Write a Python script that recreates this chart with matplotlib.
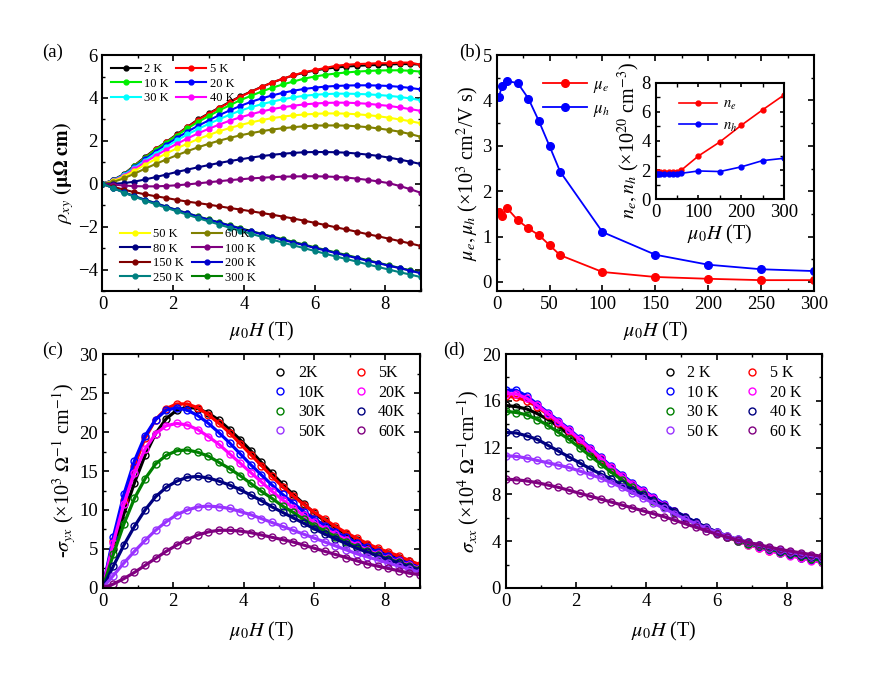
import numpy as np
import matplotlib.pyplot as plt

plt.rcParams['font.family'] = ['Liberation Serif', 'DejaVu Serif']
plt.rcParams['mathtext.fontset'] = 'stix'
plt.rcParams['xtick.direction'] = 'in'
plt.rcParams['ytick.direction'] = 'in'
plt.rcParams['xtick.top'] = True
plt.rcParams['ytick.right'] = True
plt.rcParams['axes.linewidth'] = 1.5
plt.rcParams['xtick.major.width'] = 1.2
plt.rcParams['ytick.major.width'] = 1.2
plt.rcParams['xtick.minor.width'] = 1.0
plt.rcParams['ytick.minor.width'] = 1.0
plt.rcParams['xtick.major.size'] = 4
plt.rcParams['ytick.major.size'] = 4
plt.rcParams['xtick.minor.size'] = 2
plt.rcParams['ytick.minor.size'] = 2

# magnetic field sweep (T)
field = [0.0, 0.3, 0.6, 0.9, 1.2, 1.5, 1.8, 2.1, 2.4, 2.7, 3.0, 3.3, 3.6, 3.9, 4.2, 4.5,
         4.8, 5.1, 5.4, 5.7, 6.0, 6.3, 6.6, 6.9, 7.2, 7.5, 7.8, 8.1, 8.4, 8.7, 9.0]

# (a) Hall resistivity rho_xy (uOhm cm)
rho_2K = [0, 0.18, 0.45, 0.85, 1.25, 1.62, 1.95, 2.3, 2.65, 3.0, 3.28, 3.55, 3.82, 4.08, 4.3, 4.52,
          4.72, 4.9, 5.05, 5.18, 5.28, 5.36, 5.42, 5.46, 5.5, 5.52, 5.54, 5.56, 5.58, 5.58, 5.55]
rho_5K = [0, 0.17, 0.43, 0.83, 1.22, 1.6, 1.93, 2.28, 2.63, 2.97, 3.26, 3.53, 3.8, 4.06, 4.29, 4.51,
          4.72, 4.9, 5.06, 5.2, 5.3, 5.4, 5.5, 5.55, 5.58, 5.6, 5.62, 5.62, 5.65, 5.65, 5.55]
rho_10K = [0, 0.17, 0.43, 0.82, 1.2, 1.58, 1.92, 2.25, 2.58, 2.88, 3.15, 3.42, 3.66, 3.9, 4.1, 4.3,
           4.48, 4.63, 4.77, 4.9, 5.0, 5.08, 5.14, 5.19, 5.23, 5.26, 5.28, 5.29, 5.29, 5.27, 5.23]
rho_20K = [0, 0.16, 0.42, 0.78, 1.14, 1.5, 1.82, 2.13, 2.43, 2.7, 2.95, 3.2, 3.42, 3.63, 3.82, 3.98,
           4.12, 4.24, 4.34, 4.42, 4.48, 4.53, 4.56, 4.58, 4.59, 4.59, 4.58, 4.56, 4.52, 4.47, 4.4]
rho_30K = [0, 0.15, 0.4, 0.74, 1.08, 1.41, 1.72, 2.02, 2.3, 2.55, 2.79, 3.01, 3.22, 3.41, 3.57, 3.71,
           3.83, 3.94, 4.03, 4.1, 4.15, 4.18, 4.2, 4.2, 4.19, 4.17, 4.14, 4.1, 4.05, 3.98, 3.9]
rho_40K = [0, 0.14, 0.37, 0.68, 1.0, 1.3, 1.59, 1.86, 2.11, 2.35, 2.56, 2.76, 2.94, 3.1, 3.24, 3.37,
           3.48, 3.57, 3.64, 3.7, 3.74, 3.77, 3.78, 3.78, 3.76, 3.73, 3.68, 3.63, 3.56, 3.48, 3.4]
rho_50K = [0, 0.12, 0.33, 0.6, 0.88, 1.15, 1.41, 1.65, 1.87, 2.08, 2.27, 2.45, 2.6, 2.74, 2.86, 2.97,
           3.06, 3.13, 3.19, 3.23, 3.26, 3.28, 3.28, 3.27, 3.24, 3.2, 3.15, 3.08, 3.0, 2.92, 2.82]
rho_60K = [0, 0.08, 0.25, 0.47, 0.7, 0.92, 1.13, 1.33, 1.52, 1.7, 1.86, 2.01, 2.14, 2.26, 2.36, 2.45,
           2.53, 2.59, 2.64, 2.68, 2.71, 2.72, 2.72, 2.71, 2.68, 2.64, 2.58, 2.51, 2.43, 2.32, 2.19]
rho_80K = [0, 0.0, 0.03, 0.1, 0.2, 0.31, 0.43, 0.55, 0.66, 0.77, 0.87, 0.97, 1.06, 1.14, 1.22, 1.29,
           1.35, 1.4, 1.44, 1.47, 1.48, 1.48, 1.47, 1.45, 1.41, 1.36, 1.3, 1.22, 1.13, 1.03, 0.92]
rho_100K = [0, -0.04, -0.08, -0.11, -0.12, -0.12, -0.1, -0.07, -0.03, 0.02, 0.07, 0.12, 0.17, 0.21,
            0.25, 0.28, 0.31, 0.33, 0.34, 0.35, 0.35, 0.34, 0.32, 0.29, 0.24, 0.18, 0.11, 0.03, -0.1,
            -0.25, -0.42]
rho_150K = [0, -0.14, -0.27, -0.39, -0.49, -0.58, -0.66, -0.75, -0.83, -0.9, -0.97, -1.05, -1.13,
            -1.2, -1.28, -1.36, -1.44, -1.53, -1.62, -1.72, -1.82, -1.92, -2.03, -2.13, -2.24, -2.35,
            -2.45, -2.56, -2.67, -2.78, -2.9]
rho_200K = [0, -0.2, -0.4, -0.58, -0.75, -0.91, -1.07, -1.23, -1.38, -1.53, -1.67, -1.81, -1.95,
            -2.09, -2.22, -2.35, -2.48, -2.61, -2.74, -2.86, -2.99, -3.11, -3.23, -3.35, -3.47, -3.59,
            -3.7, -3.82, -3.93, -4.05, -4.17]
rho_250K = [0, -0.2, -0.41, -0.6, -0.78, -0.95, -1.12, -1.28, -1.44, -1.6, -1.75, -1.9, -2.05, -2.19,
            -2.33, -2.47, -2.6, -2.74, -2.87, -3.0, -3.13, -3.26, -3.39, -3.51, -3.63, -3.76, -3.88,
            -4.0, -4.12, -4.23, -4.35]
rho_300K = [0, -0.19, -0.39, -0.57, -0.74, -0.9, -1.06, -1.22, -1.37, -1.52, -1.66, -1.8, -1.94,
            -2.07, -2.2, -2.33, -2.46, -2.58, -2.71, -2.83, -2.96, -3.08, -3.2, -3.32, -3.44, -3.56,
            -3.68, -3.8, -3.92, -4.03, -4.15]

# (b) mobilities vs temperature
temps = [2, 5, 10, 20, 30, 40, 50, 60, 100, 150, 200, 250, 300]
mu_e = [1.54, 1.46, 1.62, 1.36, 1.18, 1.03, 0.81, 0.59, 0.22, 0.11, 0.07, 0.04, 0.04]
mu_h = [4.07, 4.32, 4.43, 4.38, 4.04, 3.54, 2.99, 2.43, 1.10, 0.60, 0.38, 0.28, 0.24]
n_e = [1.85, 1.85, 1.85, 1.86, 1.86, 1.87, 1.9, 2.0, 2.97, 3.93, 5.07, 6.13, 7.15]
n_h = [1.71, 1.72, 1.72, 1.73, 1.73, 1.74, 1.76, 1.78, 1.94, 1.9, 2.22, 2.65, 2.81]

# (c) -sigma_yx (1e3 Ohm^-1 cm^-1)
syx_2K = [0, 5.0, 9.5, 13.5, 17.0, 19.8, 21.7, 22.8, 23.2, 23.0, 22.4, 21.5, 20.3, 19.0, 17.6, 16.1,
          14.7, 13.3, 12.0, 10.8, 9.6, 8.6, 7.7, 6.9, 6.2, 5.5, 4.9, 4.4, 3.9, 3.4, 2.9]
syx_5K = [0, 6.0, 11.3, 15.7, 19.2, 21.6, 23.0, 23.6, 23.6, 23.1, 22.2, 21.1, 19.9, 18.5, 17.1, 15.7,
          14.3, 13.0, 11.8, 10.7, 9.7, 8.8, 7.9, 7.1, 6.4, 5.7, 5.1, 4.6, 4.1, 3.5, 3.0]
syx_10K = [0, 6.5, 12.0, 16.3, 19.5, 21.6, 22.8, 23.1, 22.8, 22.1, 21.1, 19.9, 18.6, 17.2, 15.8, 14.5,
           13.2, 12.0, 10.9, 9.8, 8.9, 8.0, 7.2, 6.5, 5.8, 5.2, 4.6, 4.1, 3.6, 3.1, 2.6]
syx_20K = [0, 5.8, 10.8, 14.8, 17.8, 19.8, 20.8, 21.1, 20.9, 20.3, 19.4, 18.4, 17.2, 16.0, 14.8, 13.6,
           12.4, 11.3, 10.3, 9.3, 8.4, 7.6, 6.9, 6.2, 5.5, 4.9, 4.3, 3.8, 3.4, 2.9, 2.5]
syx_30K = [0, 4.3, 8.2, 11.5, 14.0, 15.9, 17.0, 17.6, 17.7, 17.4, 16.9, 16.1, 15.3, 14.4, 13.4, 12.4,
           11.5, 10.5, 9.7, 8.8, 8.0, 7.3, 6.6, 5.9, 5.3, 4.7, 4.2, 3.7, 3.3, 2.8, 2.4]
syx_40K = [0, 2.8, 5.5, 7.9, 10.0, 11.7, 12.9, 13.7, 14.2, 14.3, 14.1, 13.7, 13.2, 12.6, 11.9, 11.2,
           10.4, 9.7, 9.0, 8.3, 7.6, 6.9, 6.3, 5.7, 5.1, 4.6, 4.1, 3.6, 3.2, 2.7, 2.3]
syx_50K = [0, 1.6, 3.2, 4.7, 6.1, 7.4, 8.5, 9.4, 10.0, 10.4, 10.5, 10.4, 10.2, 9.8, 9.4, 8.9,
           8.4, 7.9, 7.4, 6.9, 6.4, 5.9, 5.4, 4.9, 4.4, 4.0, 3.6, 3.2, 2.8, 2.4, 2.0]
syx_60K = [0, 0.5, 1.2, 2.0, 2.9, 3.8, 4.7, 5.5, 6.2, 6.8, 7.2, 7.4, 7.4, 7.3, 7.1, 6.8,
           6.5, 6.2, 5.9, 5.5, 5.1, 4.7, 4.3, 3.9, 3.5, 3.1, 2.8, 2.5, 2.2, 1.9, 1.7]

# (d) sigma_xx (1e4 Ohm^-1 cm^-1)
sxx_2K = [15.6, 15.5, 15.3, 14.9, 14.4, 13.8, 13.1, 12.4, 11.6, 10.9, 10.2, 9.5, 8.8, 8.2, 7.6, 7.0,
          6.5, 6.0, 5.55, 5.1, 4.7, 4.35, 4.05, 3.75, 3.5, 3.25, 3.05, 2.85, 2.65, 2.45, 2.3]
sxx_5K = [16.4, 16.3, 16.0, 15.5, 14.8, 14.1, 13.4, 12.6, 11.8, 11.0, 10.25, 9.55, 8.85, 8.25, 7.65,
          7.05, 6.5, 6.0, 5.55, 5.1, 4.7, 4.35, 4.0, 3.7, 3.45, 3.2, 3.0, 2.8, 2.6, 2.4, 2.25]
sxx_10K = [16.9, 16.9, 16.4, 15.7, 15.0, 14.3, 13.6, 12.8, 12.0, 11.2, 10.4, 9.7, 9.0, 8.4, 7.8, 7.2,
           6.6, 6.1, 5.6, 5.15, 4.75, 4.4, 4.05, 3.75, 3.5, 3.25, 3.0, 2.8, 2.6, 2.4, 2.25]
sxx_20K = [16.6, 16.6, 16.2, 15.6, 14.9, 14.2, 13.5, 12.7, 11.9, 11.1, 10.3, 9.6, 8.9, 8.3, 7.7, 7.1,
           6.55, 6.05, 5.55, 5.1, 4.7, 4.35, 4.0, 3.7, 3.45, 3.2, 2.95, 2.75, 2.55, 2.35, 2.2]
sxx_30K = [15.1, 15.0, 14.8, 14.4, 13.9, 13.3, 12.7, 12.0, 11.3, 10.6, 9.9, 9.25, 8.6, 8.0, 7.45, 6.9,
           6.4, 5.95, 5.5, 5.1, 4.7, 4.35, 4.05, 3.8, 3.55, 3.3, 3.1, 2.9, 2.7, 2.5, 2.35]
sxx_40K = [13.3, 13.25, 13.0, 12.7, 12.2, 11.7, 11.2, 10.7, 10.2, 9.75, 9.3, 8.85, 8.4, 7.95, 7.5,
           7.05, 6.6, 6.1, 5.65, 5.2, 4.8, 4.45, 4.15, 3.9, 3.65, 3.4, 3.2, 3.0, 2.8, 2.65, 2.5]
sxx_50K = [11.3, 11.25, 11.1, 10.9, 10.7, 10.5, 10.3, 10.0, 9.7, 9.4, 9.0, 8.6, 8.15, 7.7, 7.25, 6.8,
           6.35, 5.9, 5.5, 5.1, 4.75, 4.45, 4.15, 3.9, 3.65, 3.45, 3.25, 3.05, 2.9, 2.75, 2.6]
sxx_60K = [9.3, 9.25, 9.15, 9.0, 8.8, 8.6, 8.35, 8.1, 7.85, 7.6, 7.35, 7.1, 6.85, 6.6, 6.35, 6.1,
           5.8, 5.5, 5.2, 4.9, 4.6, 4.35, 4.1, 3.9, 3.7, 3.5, 3.3, 3.15, 3.0, 2.85, 2.7]

rho_sets = [('2 K', rho_2K, 'black'), ('5 K', rho_5K, 'red'), ('10 K', rho_10K, '#00ee00'),
            ('20 K', rho_20K, '#0000ff'), ('30 K', rho_30K, '#00ffff'), ('40 K', rho_40K, '#ff00ff'),
            ('50 K', rho_50K, '#ffff00'), ('60 K', rho_60K, '#808000'), ('80 K', rho_80K, '#000080'),
            ('100 K', rho_100K, '#800080'), ('150 K', rho_150K, '#800000'),
            ('300 K', rho_300K, '#008000'), ('200 K', rho_200K, '#0000cc'),
            ('250 K', rho_250K, '#008080')]

low_T_colors = ['black', 'red', '#0000ff', '#ff00ff', '#008000', '#000080', '#9933ff', '#800080']
low_T_names = ['2', '5', '10', '20', '30', '40', '50', '60']
syx_sets = [syx_2K, syx_5K, syx_10K, syx_20K, syx_30K, syx_40K, syx_50K, syx_60K]
sxx_sets = [sxx_2K, sxx_5K, sxx_10K, sxx_20K, sxx_30K, sxx_40K, sxx_50K, sxx_60K]

fig = plt.figure(figsize=(8.72, 6.8), dpi=100)
tick_fs = 13.5
lab_fs = 14.5
pan_fs = 13.5
xlab = r'$\mu_\mathit{0}H$ (T)'

# ---------------- (a)
ax = fig.add_axes([0.1175, 0.572, 0.365, 0.347])
lines = {}
for name, y, c in rho_sets:
    lines[name], = ax.plot(field, y, '-o', color=c, ms=3.5, lw=1.5)
ax.set_xlim(0, 9)
ax.set_ylim(-5, 6)
ax.set_xticks([0, 2, 4, 6, 8])
ax.set_xticks([1, 3, 5, 7, 9], minor=True)
ax.set_yticks([-4, -2, 0, 2, 4, 6])
ax.set_yticks([-5, -3, -1, 1, 3, 5], minor=True)
ax.tick_params(labelsize=tick_fs, which='both', top=True, right=True)
ax.set_xlabel(xlab, fontsize=lab_fs, labelpad=5)
ax.set_ylabel(r'$\rho_{xy}$ $\mathbf{(\mu\Omega\ cm)}$', fontsize=lab_fs, labelpad=1)
top_order = ['2 K', '10 K', '30 K', '5 K', '20 K', '40 K']
leg1 = ax.legend([lines[k] for k in top_order], top_order, loc='upper left', ncol=2,
                 frameon=False, fontsize=9, handlelength=2.4, handletextpad=0.3,
                 columnspacing=0.6, labelspacing=0.2, borderaxespad=0.25)
ax.add_artist(leg1)
bot_order = ['50 K', '80 K', '150 K', '250 K', '60 K', '100 K', '200 K', '300 K']
ax.legend([lines[k] for k in bot_order], bot_order, loc='lower left', ncol=2,
          frameon=False, fontsize=9, handlelength=2.4, handletextpad=0.3,
          columnspacing=0.6, labelspacing=0.2, borderaxespad=0.2, bbox_to_anchor=(0.03, 0.0))
fig.text(0.048, 0.916, '(a)', fontsize=pan_fs)

# ---------------- (b)
ax = fig.add_axes([0.5696, 0.572, 0.364, 0.347])
ax.plot(temps, mu_e, '-o', color='#ff0000', ms=5.5, lw=1.3, label=r'$\mu_e$')
ax.plot(temps, mu_h, '-o', color='#0000ff', ms=5.5, lw=1.3, label=r'$\mu_h$')
ax.set_xlim(0, 300)
ax.set_ylim(-0.2, 5)
ax.set_xticks([0, 50, 100, 150, 200, 250, 300])
ax.set_xticks([25, 75, 125, 175, 225, 275], minor=True)
ax.set_yticks([0, 1, 2, 3, 4, 5])
ax.set_yticks([0.5, 1.5, 2.5, 3.5, 4.5], minor=True)
ax.tick_params(labelsize=tick_fs, which='both', top=True, right=True)
ax.set_xlabel(xlab, fontsize=lab_fs, labelpad=5)
ax.set_ylabel(r'$\mu_e, \mu_h$ (×10$^3$ cm$^2$/V s)', fontsize=lab_fs, labelpad=1)
ax.legend(loc='upper left', frameon=False, fontsize=12, handlelength=2.6, handletextpad=0.4,
          labelspacing=0.35, bbox_to_anchor=(0.1, 0.97))
fig.text(0.527, 0.916, '(b)', fontsize=pan_fs)

axi = fig.add_axes([0.752, 0.707, 0.147, 0.1715])
axi.plot(temps, n_e, '-o', color='#ff0000', ms=3.5, lw=1.2, label=r'$n_e$')
axi.plot(temps, n_h, '-o', color='#0000ff', ms=3.5, lw=1.2, label=r'$n_h$')
axi.set_xlim(0, 300)
axi.set_ylim(0, 8)
axi.set_xticks([0, 100, 200, 300])
axi.set_xticks([50, 150, 250], minor=True)
axi.set_yticks([0, 2, 4, 6, 8])
axi.set_yticks([1, 3, 5, 7], minor=True)
axi.tick_params(labelsize=tick_fs, which='both', top=True, right=True, length=3)
axi.set_xlabel(xlab, fontsize=lab_fs, labelpad=1)
axi.set_ylabel(r'$n_e, n_h$ (×10$^{20}$ cm$^{-3}$)', fontsize=lab_fs, labelpad=0)
axi.legend(loc='upper left', frameon=False, fontsize=10.5, handlelength=2.6, handletextpad=0.4,
           labelspacing=0.48, bbox_to_anchor=(0.08, 0.98))

# ---------------- (c)
ax = fig.add_axes([0.1178, 0.1353, 0.3639, 0.3441])
for nm, y, c in zip(low_T_names, syx_sets, low_T_colors):
    ax.plot(field, y, 'o', mfc='none', mec=c, ms=5, mew=1.0, label=nm + 'K')
    ax.plot(field, y, '-', color=c, lw=2.3)
ax.set_xlim(0, 9)
ax.set_ylim(0, 30)
ax.set_xticks([0, 2, 4, 6, 8])
ax.set_xticks([1, 3, 5, 7, 9], minor=True)
ax.set_yticks([0, 5, 10, 15, 20, 25, 30])
ax.set_yticks([2.5, 7.5, 12.5, 17.5, 22.5, 27.5], minor=True)
ax.tick_params(labelsize=tick_fs, which='both', top=True, right=True)
ax.set_xlabel(xlab, fontsize=lab_fs, labelpad=7)
ax.set_ylabel(r'-$\sigma_{yx}$ (×10$^3$ $\Omega^{-1}$ cm$^{-1}$)', fontsize=lab_fs, labelpad=1)
h, l = ax.get_legend_handles_labels()
order = [0, 2, 4, 6, 1, 3, 5, 7]
ax.legend([h[i] for i in order], [l[i] for i in order], loc='upper right', ncol=2,
          frameon=False, fontsize=11.5, handlelength=1.0, handletextpad=0.6, columnspacing=1.7,
          labelspacing=0.22, borderaxespad=0.3, bbox_to_anchor=(0.99, 1.0))
fig.text(0.048, 0.478, '(c)', fontsize=pan_fs)

# ---------------- (d)
ax = fig.add_axes([0.58, 0.1353, 0.3627, 0.3441])
for nm, y, c in zip(low_T_names, sxx_sets, low_T_colors):
    ax.plot(field, y, 'o', mfc='none', mec=c, ms=5, mew=1.0, label=nm + ' K')
    ax.plot(field, y, '-', color=c, lw=2.3)
ax.set_xlim(0, 9)
ax.set_ylim(0, 20)
ax.set_xticks([0, 2, 4, 6, 8])
ax.set_xticks([1, 3, 5, 7, 9], minor=True)
ax.set_yticks([0, 4, 8, 12, 16, 20])
ax.set_yticks([2, 6, 10, 14, 18], minor=True)
ax.tick_params(labelsize=tick_fs, which='both', top=True, right=True)
ax.set_xlabel(xlab, fontsize=lab_fs, labelpad=7)
ax.set_ylabel(r'$\sigma_{xx}$ (×10$^4$ $\Omega^{-1}$cm$^{-1}$)', fontsize=lab_fs, labelpad=1)
h, l = ax.get_legend_handles_labels()
ax.legend([h[i] for i in order], [l[i] for i in order], loc='upper right', ncol=2,
          frameon=False, fontsize=11.5, handlelength=1.0, handletextpad=0.6, columnspacing=1.6,
          labelspacing=0.22, borderaxespad=0.3, bbox_to_anchor=(0.97, 1.0))
fig.text(0.508, 0.478, '(d)', fontsize=pan_fs)

fig.savefig('out.png', dpi=100)
